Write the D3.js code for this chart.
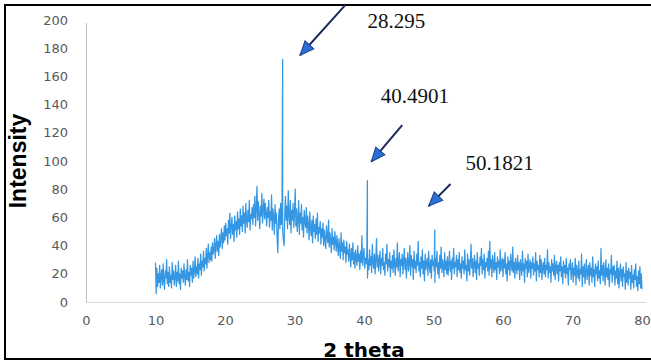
<!DOCTYPE html>
<html>
<head>
<meta charset="utf-8">
<script src="https://cdn.jsdelivr.net/npm/d3@7"></script>
<style>
  body { margin: 0; background: #fff; }
  svg { display: block; }
</style>
</head>
<body>
<svg id="chart" width="651" height="362"></svg>
<script>
const WIDTH = 651
const HEIGHT = 362

const xTicks = [0, 10, 20, 30, 40, 50, 60, 70, 80]
const yTicks = [0, 20, 40, 60, 80, 100, 120, 140, 160, 180, 200]

// scan from 10 to 80 deg, every 0.1 deg (one row = 2 deg)
const scanStart = 10
const scanStep = 0.1
const intensity = [
  28, 6, 24, 11, 20, 14, 26, 10, 19, 23, 12, 27, 15, 9, 22, 17, 30, 13, 21, 11,
  25, 14, 19, 10, 28, 16, 22, 12, 18, 26, 11, 21, 15, 29, 13, 20, 9, 24, 17, 22,
  14, 27, 18, 12, 23, 16, 30, 15, 21, 11, 26, 19, 24, 14, 29, 17, 22, 32, 18, 25,
  20, 31, 17, 27, 23, 34, 19, 29, 25, 36, 22, 31, 27, 38, 24, 33, 41, 28, 35, 30,
  39, 29, 42, 34, 37, 45, 31, 40, 47, 36, 43, 33, 48, 39, 45, 52, 38, 49, 42, 54,
  44, 56, 47, 52, 41, 58, 49, 63, 45, 53, 60, 48, 55, 43, 61, 51, 57, 46, 64, 52,
  59, 48, 66, 54, 61, 50, 68, 56, 63, 49, 70, 58, 53, 65, 57, 72, 51, 62, 59, 67,
  55, 69, 60, 75, 54, 66, 82, 58, 71, 63, 52, 68, 61, 77, 56, 65, 73, 59, 70, 62,
  54, 67, 60, 72, 53, 64, 58, 76, 51, 66, 61, 48, 69, 56, 63, 45, 35, 59, 66, 52,
  70, 55, 64, 50, 44, 40, 62, 75, 58, 68, 52, 79, 61, 55, 72, 49, 65, 58, 70, 53,
  62, 80, 54, 66, 50, 59, 72, 48, 63, 56, 69, 51, 60, 46, 65, 57, 53, 67, 49, 61,
  55, 44, 64, 52, 47, 58, 42, 61, 50, 55, 45, 59, 48, 63, 43, 53, 49, 57, 41, 52,
  46, 56, 40, 51, 44, 38, 54, 47, 42, 58, 39, 49, 44, 35, 52, 41, 46, 37, 50, 43,
  36, 47, 40, 33, 45, 38, 31, 49, 36, 42, 30, 44, 35, 39, 28, 43, 34, 37, 29, 41,
  33, 25, 38, 30, 42, 27, 35, 24, 37, 31, 26, 40, 29, 34, 23, 36, 28, 47, 26, 33,
  38, 24, 31, 27, 35, 17, 30, 23, 37, 26, 32, 21, 41, 28, 24, 34, 20, 30, 45, 25,
  33, 22, 29, 36, 20, 31, 26, 38, 23, 28, 19, 34, 27, 41, 22, 30, 25, 35, 18, 29,
  24, 33, 21, 37, 27, 19, 31, 25, 42, 22, 28, 35, 18, 30, 26, 34, 20, 29, 38, 23,
  31, 17, 28, 35, 22, 27, 40, 19, 33, 25, 30, 16, 36, 24, 29, 21, 34, 26, 43, 22,
  28, 18, 32, 24, 37, 20, 29, 15, 34, 23, 27, 31, 19, 36, 25, 21, 30, 17, 33, 26,
  29, 22, 14, 31, 25, 36, 20, 28, 17, 33, 24, 39, 21, 30, 26, 18, 35, 23, 29, 20,
  32, 19, 27, 36, 22, 29, 16, 31, 24, 38, 20, 28, 25, 33, 18, 30, 23, 35, 21, 27,
  17, 32, 24, 29, 20, 37, 23, 26, 15, 34, 22, 30, 19, 28, 41, 24, 31, 18, 27, 33,
  21, 29, 16, 35, 24, 27, 19, 32, 26, 38, 20, 30, 23, 34, 17, 28, 25, 31, 22, 36,
  19, 43, 24, 30, 18, 33, 26, 21, 35, 23, 28, 16, 32, 25, 29, 20, 37, 22, 27, 31,
  18, 30, 24, 35, 20, 27, 15, 32, 23, 29, 19, 34, 26, 22, 39, 21, 28, 17, 31, 25,
  20, 33, 23, 28, 16, 30, 25, 19, 36, 22, 27, 14, 31, 24, 29, 18, 34, 21, 26, 30,
  17, 28, 24, 32, 19, 27, 22, 35, 15, 29, 23, 26, 18, 33, 21, 30, 16, 25, 28, 20,
  31, 18, 26, 23, 37, 17, 28, 21, 25, 14, 30, 22, 27, 19, 33, 16, 24, 29, 20, 26,
  15, 28, 22, 32, 18, 25, 13, 29, 21, 26, 17, 31, 20, 24, 12, 27, 23, 30, 16, 22,
  28, 14, 24, 19, 31, 12, 26, 21, 17, 29, 15, 23, 20, 34, 11, 25, 18, 27, 13, 22,
  30, 16, 21, 26, 12, 28, 19, 24, 14, 32, 18, 23, 11, 27, 20, 25, 15, 29, 17, 22,
  13, 38, 19, 26, 15, 28, 21, 12, 30, 18, 24, 16, 27, 11, 23, 20, 33, 14, 25, 19,
  26, 12, 22, 17, 29, 13, 24, 10, 21, 27, 15, 23, 11, 25, 18, 20, 9, 28, 14, 22,
  12, 24, 17, 21, 9, 26, 14, 19, 10, 23, 16, 27, 11, 18, 8, 22, 13, 25, 10, 20,
  9
]

// sharp reflections
const peakTheta = [28.295, 40.4901, 50.1821]
const peakValue = [172, 86, 51]
const peakLabels = ['28.295', '40.4901', '50.1821']

// annotation placement in data units (theta, intensity)
const labelAt = [[40.5, 194], [42.4, 141], [54.6, 93.6]]
const arrowFrom = [[37.3, 210.5], [45.5, 125.5], [52.45, 83.7]]
const arrowTo = [[30.8, 175], [41.05, 99.5], [49.3, 68]]

const margin = { top: 20, right: 9, bottom: 60, left: 86 }

const svg = d3.select('#chart')

const x = d3.scaleLinear()
  .domain([0, 80])
  .range([margin.left, WIDTH - margin.right])

const y = d3.scaleLinear()
  .domain([0, 200])
  .range([HEIGHT - margin.bottom, margin.top])

// frame of the figure (no right side)
svg.append('path')
  .attr('d', `M${WIDTH},5 H5 V359 H${WIDTH}`)
  .attr('fill', 'none')
  .attr('stroke', '#000')
  .attr('stroke-width', 2)

// axes
const xAxis = svg.append('g')
  .attr('transform', `translate(0,${y(0)})`)
  .call(d3.axisBottom(x).tickValues(xTicks).tickSize(0).tickPadding(14))
xAxis.select('.domain').attr('stroke', '#d9d9d9').attr('d', `M${x(0)},0.5H${x(80) + 4}`)

const yAxis = svg.append('g')
  .attr('transform', `translate(${x(0)},0)`)
  .call(d3.axisLeft(y).tickValues(yTicks).tickSize(0).tickPadding(18))
yAxis.select('.domain').attr('stroke', '#bfbfbf').attr('d', `M0.5,${y(0)}V${y(200) + 3}`)

svg.selectAll('.tick text')
  .attr('font-family', 'DejaVu Sans, Verdana, sans-serif')
  .attr('font-size', 13)
  .attr('fill', '#595959')

// series
const points = intensity
  .map((v, i) => ({ theta: scanStart + i * scanStep, value: v }))
  .concat(peakTheta.map((t, i) => ({ theta: t, value: peakValue[i] })))
  .sort((a, b) => a.theta - b.theta)

const line = d3.line()
  .x(d => x(d.theta))
  .y(d => y(d.value))

svg.append('path')
  .datum(points)
  .attr('fill', 'none')
  .attr('stroke', '#3597e3')
  .attr('stroke-width', 1.25)
  .attr('stroke-linejoin', 'round')
  .attr('d', line)

// axis titles
svg.append('text')
  .attr('transform', `translate(26,${(y(0) + y(200)) / 2}) rotate(-90)`)
  .attr('text-anchor', 'middle')
  .attr('font-family', 'Liberation Sans Narrow, Arial Narrow, Liberation Sans, sans-serif')
  .attr('font-weight', 'bold')
  .attr('font-size', 23)
  .attr('fill', '#000')
  .text('Intensity')

svg.append('text')
  .attr('x', (x(0) + x(80)) / 2)
  .attr('y', 357)
  .attr('text-anchor', 'middle')
  .attr('font-family', 'DejaVu Sans, Verdana, sans-serif')
  .attr('font-weight', 'bold')
  .attr('font-size', 20)
  .attr('fill', '#000')
  .text('2 theta')

// arrows + peak labels
svg.append('defs').append('marker')
  .attr('id', 'head')
  .attr('markerUnits', 'userSpaceOnUse')
  .attr('viewBox', '0 0 16 14')
  .attr('markerWidth', 16)
  .attr('markerHeight', 14)
  .attr('refX', 15)
  .attr('refY', 7)
  .attr('orient', 'auto')
  .append('path')
  .attr('d', 'M1,1 L15,7 L1,13 Z')
  .attr('fill', '#2b6fd6')
  .attr('stroke', '#1c3f8a')
  .attr('stroke-width', 1)

svg.append('g')
  .selectAll('line')
  .data(arrowFrom)
  .join('line')
  .attr('x1', d => x(d[0]))
  .attr('y1', d => y(d[1]))
  .attr('x2', (d, i) => x(arrowTo[i][0]))
  .attr('y2', (d, i) => y(arrowTo[i][1]))
  .attr('stroke', '#1c2b5e')
  .attr('stroke-width', 2)
  .attr('marker-end', 'url(#head)')

svg.append('g')
  .selectAll('text')
  .data(peakLabels)
  .join('text')
  .attr('x', (d, i) => x(labelAt[i][0]))
  .attr('y', (d, i) => y(labelAt[i][1]))
  .attr('font-family', 'Liberation Serif, Times New Roman, serif')
  .attr('font-size', 21)
  .attr('fill', '#111')
  .text(d => d)
</script>
</body>
</html>
